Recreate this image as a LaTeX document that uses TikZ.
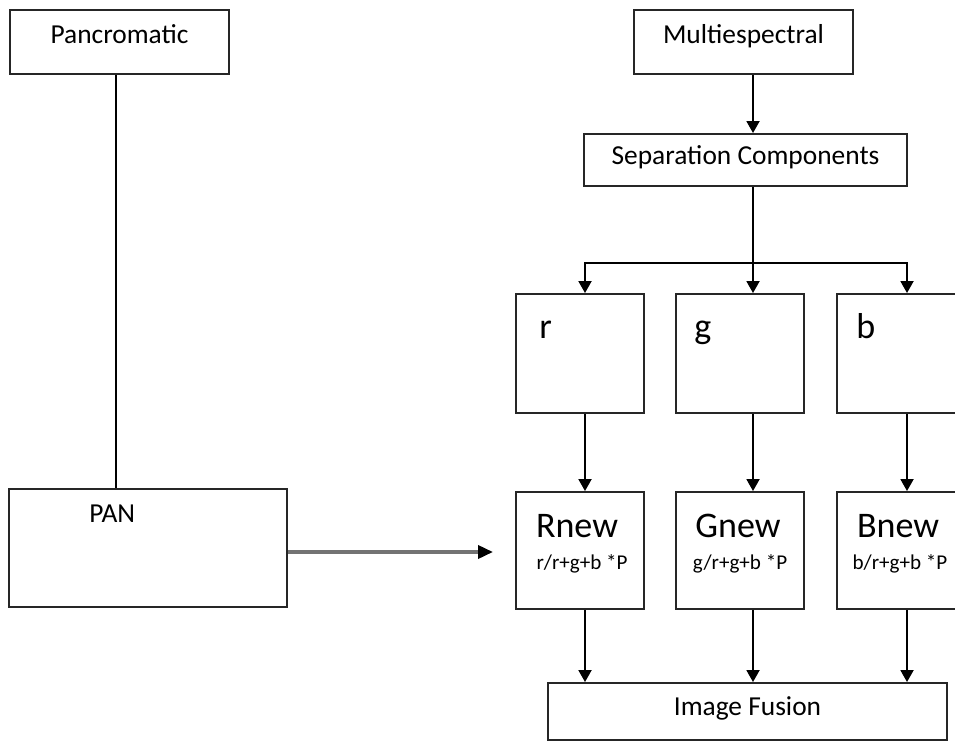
\documentclass[tikz,border=0pt]{standalone}
\usepackage{fontspec}
\setmainfont{Carlito}
\usetikzlibrary{arrows.meta}

\begin{document}
\begin{tikzpicture}[x=0.02cm,y=-0.02cm,
  every node/.style={font=\fontsize{15.6}{18}\selectfont},
  box/.style={draw=black!85,line width=1.1pt,inner sep=0pt,text height=0.75em,text depth=0.25em},
  big/.style={font=\fontsize{20.5}{24}\selectfont,inner sep=0pt},
  small/.style={font=\fontsize{12}{14}\selectfont,inner sep=0pt},
  flow/.style={line width=1.1pt,-{Triangle[width=0.26cm,length=0.24cm]}}]
  \useasboundingbox (0,0) rectangle (955,742);

  % inputs
  \node[box,minimum width=4.38cm,minimum height=1.28cm,text depth=0.53em] (pancro) at (119.5,42) {Pancromatic};
  \node[box,minimum width=4.38cm,minimum height=1.28cm,text depth=0.53em] (multi) at (743.5,42) {Multiespectral};
  \node[box,minimum width=6.46cm,minimum height=1.04cm] (sep) at (745.5,160) {Separation Components};

  % bands
  \node[box,minimum width=2.56cm,minimum height=2.38cm] (rbox) at (580,353.5) {};
  \node[box,minimum width=2.56cm,minimum height=2.38cm] (gbox) at (740,353.5) {};
  \node[box,minimum width=2.56cm,minimum height=2.38cm] (bbox) at (901,353.5) {};
  \node[big,anchor=base west] (rlab) at ([shift={(24,45)}]rbox.north west) {r};
  \node[big,anchor=base west] (glab) at ([shift={(19,45)}]gbox.north west) {g};
  \node[big,anchor=base west] (blab) at ([shift={(20,45)}]bbox.north west) {b};

  % new bands
  \node[box,minimum width=2.56cm,minimum height=2.34cm] (rnew) at (580,550.5) {};
  \node[box,minimum width=2.56cm,minimum height=2.34cm] (gnew) at (740,550.5) {};
  \node[box,minimum width=2.56cm,minimum height=2.34cm] (bnew) at (901,550.5) {};
  \node[big,anchor=base] (rnewlab) at ([shift={(-3,46)}]rnew.north) {Rnew};
  \node[big,anchor=base] (gnewlab) at ([shift={(-2,46)}]gnew.north) {Gnew};
  \node[big,anchor=base] (bnewlab) at ([shift={(-3,46)}]bnew.north) {Bnew};
  \node[small,anchor=base] (rform) at ([shift={(2,78)}]rnew.north) {r/r+g+b *P};
  \node[small,anchor=base] (gform) at ([shift={(0,78)}]gnew.north) {g/r+g+b *P};
  \node[small,anchor=base] (bform) at ([shift={(-1,78)}]bnew.north) {b/r+g+b *P};

  \node[box,minimum width=5.56cm,minimum height=2.36cm] (pan) at (148,548) {};
  \node[anchor=base west,inner sep=0pt] (panlab) at ([shift={(81,34)}]pan.north west) {PAN};

  \node[box,minimum width=7.98cm,minimum height=1.14cm] (fusion) at (747.5,711.5) {Image Fusion};

  \coordinate (colp) at (116,0);
  \coordinate (colr) at (585,0);
  \coordinate (colg) at (753,0);
  \coordinate (colb) at (907,0);
  \coordinate (fork) at (0,263);
  \coordinate (panend) at (493,552);

  % connectors
  \draw[line width=1.1pt] (pancro.south -| colp) -- (pan.north -| colp);
  \draw[flow] (multi.south -| colg) -- (sep.north -| colg);
  \draw[line width=1.1pt,line cap=rect] (fork -| colr) -- (fork -| colb);
  \draw[flow] (sep.south -| colg) -- (gbox.north -| colg);
  \draw[flow] (fork -| colr) -- (rbox.north -| colr);
  \draw[flow] (fork -| colb) -- (bbox.north -| colb);

  \draw[flow] (rbox.south -| colr) -- (rnew.north -| colr);
  \draw[flow] (gbox.south -| colg) -- (gnew.north -| colg);
  \draw[flow] (bbox.south -| colb) -- (bnew.north -| colb);

  \draw[flow] (rnew.south -| colr) -- (fusion.north -| colr);
  \draw[flow] (gnew.south -| colg) -- (fusion.north -| colg);
  \draw[flow] (bnew.south -| colb) -- (fusion.north -| colb);

  \draw[black!55,line width=2pt,-{Triangle[width=0.26cm,length=0.3cm,black]}] (pan.east |- panend) -- (panend);
\end{tikzpicture}
\end{document}
